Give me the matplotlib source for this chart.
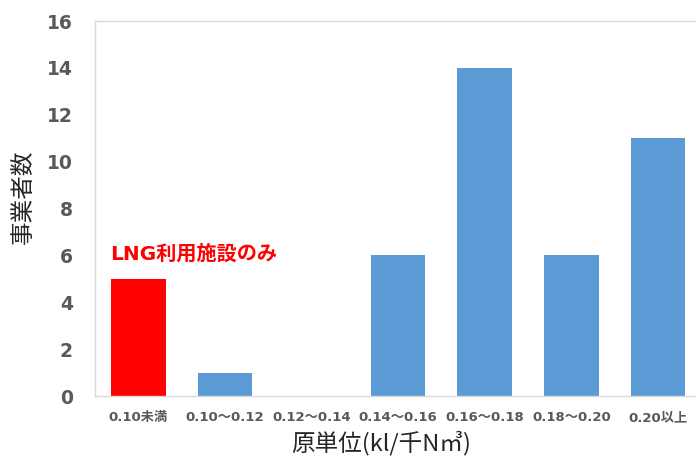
import matplotlib
matplotlib.use("Agg")
import matplotlib.pyplot as plt

categories = ["0.10未満", "0.10～0.12", "0.12～0.14", "0.14～0.16",
              "0.16～0.18", "0.18～0.20", "0.20以上"]
counts = [5, 1, 0, 6, 14, 6, 11]
bar_colors = ["#FF0000", "#5B9BD5", "#5B9BD5", "#5B9BD5",
              "#5B9BD5", "#5B9BD5", "#5B9BD5"]
y_ticks = [0, 2, 4, 6, 8, 10, 12, 14, 16]
note_text = "LNG利用施設のみ"

plt.rcParams["font.family"] = ["DejaVu Sans", "Noto Sans CJK JP"]

fig = plt.figure(figsize=(6.96, 4.59), dpi=100)
ax = fig.add_axes([0.1365, 0.137, 0.871, 0.817])

x = list(range(len(categories)))
ax.bar(x, counts, width=0.63, color=bar_colors, zorder=2)

ax.set_xlim(-0.5, len(categories) - 0.5)
ax.set_ylim(0, 16)
ax.set_yticks(y_ticks)
ax.set_yticklabels([str(v) for v in y_ticks], fontsize=13.5,
                   fontweight="bold", color="#595959")
ax.set_xticks(x)
ax.set_xticklabels(categories, fontsize=9.5, fontweight="bold",
                   color="#595959",
                   family=["DejaVu Sans", "Noto Sans CJK JP"])

ax.tick_params(axis="y", length=0, pad=16)
ax.tick_params(axis="x", length=0, pad=11)

for side in ["left", "top", "bottom", "right"]:
    ax.spines[side].set_color("#D9D9D9")
    ax.spines[side].set_linewidth(1.0)

ax.set_ylabel("事業者数", fontsize=17, family=["Noto Sans CJK JP"],
              color="#262626")
ax.yaxis.set_label_coords(-0.099, 0.531)
ax.set_xlabel("原単位(kl/千N㎥)", fontsize=17,
              family=["Noto Sans CJK JP", "DejaVu Sans"],
              color="#262626")
ax.xaxis.set_label_coords(0.472, -0.093)

ax.text(-0.33, 6.05, note_text, color="#FF0000", fontsize=14.5,
        fontweight="bold", va="center", ha="left",
        family=["DejaVu Sans", "Noto Sans CJK JP"])

fig.savefig("out.png", dpi=100)
